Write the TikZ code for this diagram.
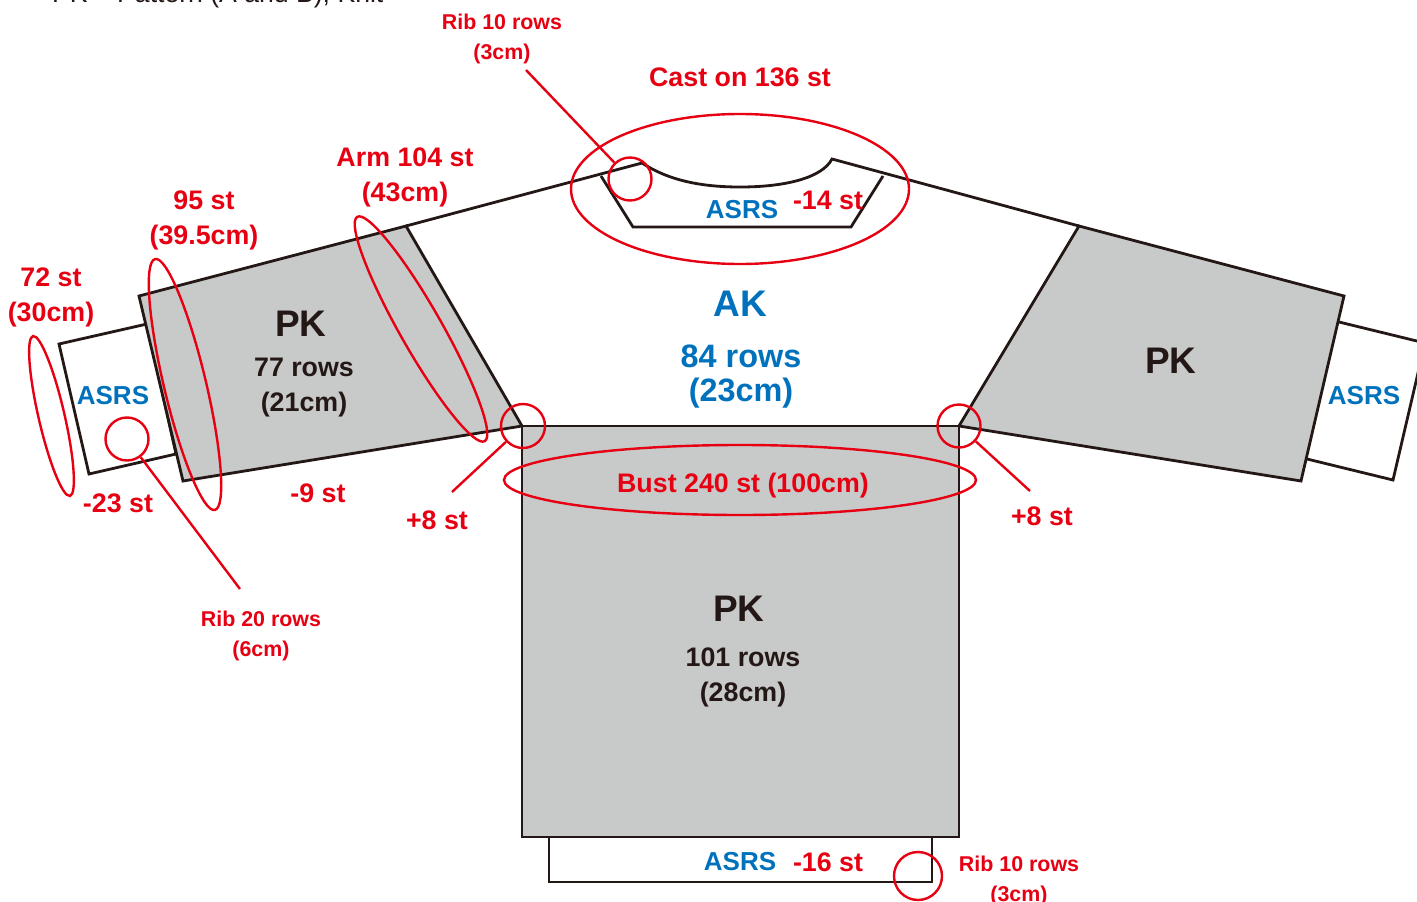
\documentclass[tikz,border=0pt]{standalone}
\usepackage{fontspec}
\setmainfont{Liberation Sans}
\usetikzlibrary{shapes.geometric}
\definecolor{myred}{RGB}{230,0,18}
\definecolor{myblue}{RGB}{0,113,188}
\definecolor{myblack}{RGB}{35,24,21}
\definecolor{mygrey}{RGB}{200,202,201}
\begin{document}
\begin{tikzpicture}[x=1pt,y=-1pt,
  piece/.style={draw=myblack,line width=2.8pt,line join=miter},
  ring/.style={draw=myred,line width=2.4pt,ellipse,inner sep=0pt},
  leader/.style={draw=myred,line width=2.4pt},
  redtext/.style={text=myred,font=\bfseries\fontsize{26.8}{35}\selectfont,align=center,inner sep=0pt},
  smalltext/.style={text=myred,font=\bfseries\fontsize{21.4}{30}\selectfont,align=center,inner sep=0pt},
  asrstext/.style={text=myblue,font=\bfseries\fontsize{26}{30}\selectfont,inner sep=0pt},
  pktext/.style={text=myblack,font=\bfseries\fontsize{37}{40}\selectfont,inner sep=0pt},
  rowtext/.style={text=myblack,font=\bfseries\fontsize{26.8}{35}\selectfont,align=center,inner sep=0pt}
]
\clip (0,0) rectangle (1417,902);

% the heading
\node[text=myblack,font=\fontsize{26.6}{30}\selectfont,anchor=base west,inner sep=0pt] (heading) at (52,2) {PK -- Pattern (A and B), Knit};

% the cuffs and the ribs
\draw[piece] (59,344) -- (147,324) -- (176,454) -- (89,474) -- cycle;
\draw[piece] (1339,322) -- (1425,343) -- (1393,480) -- (1307,459);
\draw[piece] (549,837) rectangle (932,882);

% the neck
\draw[piece] (601,176) -- (633,227) -- (851,227) -- (883,176);
\draw[piece] (406,226) -- (642,163);
\draw[piece] (642,163) .. controls (668,180) and (700,187) .. (740,187)
  .. controls (785,187) and (822,178) .. (832,159) -- (1079,226);

% the sleeves and the body
\draw[piece,fill=mygrey] (139,296) -- (406,226) -- (522,426) -- (183,481) -- cycle;
\draw[piece,fill=mygrey] (1079,226) -- (1344,296) -- (1301,481) -- (959,426) -- cycle;
\draw[piece,fill=mygrey] (522,426) rectangle (959,837);

% the rings
\node[ring,minimum width=338,minimum height=150] (castring) at (740,189) {};
\node[ring,minimum width=472,minimum height=70] (bustring) at (740,480) {};
\node[ring,minimum width=164,minimum height=26,rotate=-77] (cuffring) at (51.5,416) {};
\node[ring,minimum width=258,minimum height=42,rotate=-76.6] (wristring) at (185,384.5) {};
\node[ring,minimum width=258,minimum height=42,rotate=-60.4] (armring) at (421,329) {};
\node[ring,minimum width=43,minimum height=43] (neckring) at (630,179) {};
\node[ring,minimum width=43,minimum height=43] (sleevering) at (127,439) {};
\node[ring,minimum width=44,minimum height=44] (leftring) at (523,426) {};
\node[ring,minimum width=43,minimum height=43] (rightring) at (959,426) {};
\node[ring,minimum width=48,minimum height=48] (hemring) at (918,876) {};

% the leaders
\coordinate (neckend) at (526,70);
\coordinate (sleeveend) at (240,589);
\coordinate (leftend) at (452,492);
\coordinate (rightend) at (1030,491);
\draw[leader] (neckend) -- (neckring);
\draw[leader] (sleeveend) -- (sleevering);
\draw[leader] (leftend) -- (leftring);
\draw[leader] (rightend) -- (rightring);

% the red labels
\node[smalltext] (ribneck) at (502,39) {Rib 10 rows\\(3cm)};
\node[smalltext] (ribsleeve) at (261,636) {Rib 20 rows\\(6cm)};
\node[smalltext] (ribhem) at (1019,881) {Rib 10 rows\\(3cm)};
\node[redtext] (caston) at (740,77) {Cast on 136 st};
\node[redtext] (armst) at (405,177) {Arm 104 st\\(43cm)};
\node[redtext] (wristst) at (204,220) {95 st\\(39.5cm)};
\node[redtext] (cuffst) at (51,297) {72 st\\(30cm)};
\node[redtext] (decneck) at (828,200) {-14 st};
\node[redtext] (deccuff) at (118,503) {-23 st};
\node[redtext] (decsleeve) at (318,493) {-9 st};
\node[redtext] (incleft) at (437,520) {+8 st};
\node[redtext] (incright) at (1042,516) {+8 st};
\node[redtext] (bustst) at (743,486) {Bust 240 st (100cm)};
\node[redtext] (dechem) at (828,862) {-16 st};

% the blue labels
\node[asrstext] (asrsneck) at (742,210) {ASRS};
\node[asrstext] (asrsleft) at (113,396) {ASRS};
\node[asrstext] (asrsright) at (1364,396) {ASRS};
\node[asrstext] (asrshem) at (740,862) {ASRS};
\node[asrstext,font=\bfseries\fontsize{37}{40}\selectfont] (aktext) at (740,304) {AK};
\node[asrstext,font=\bfseries\fontsize{32.4}{34}\selectfont,align=center] (akrows) at (741,377) {84 rows\\(23cm)};

% the black labels
\node[pktext] (pkleft) at (301,324) {PK};
\node[pktext] (pkright) at (1171,361) {PK};
\node[pktext] (pkbody) at (739,609) {PK};
\node[rowtext] (rowsleft) at (304,388) {77 rows\\(21cm)};
\node[rowtext] (rowsbody) at (743,677) {101 rows\\(28cm)};
\end{tikzpicture}
\end{document}
